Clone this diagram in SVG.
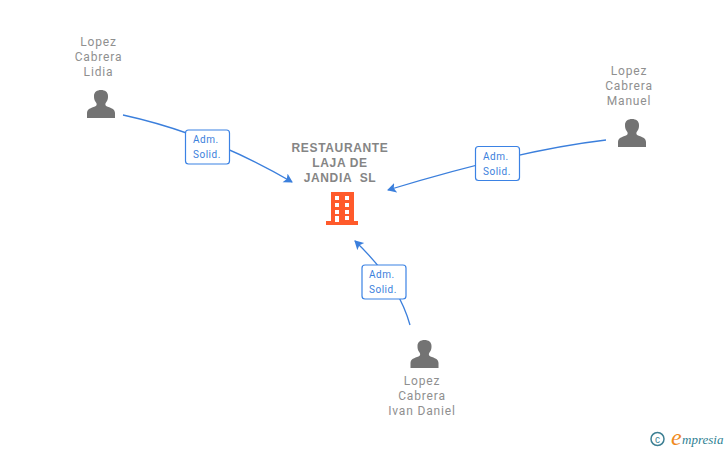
<svg xmlns="http://www.w3.org/2000/svg" width="728" height="450" viewBox="0 0 728 450">
<style>
.n{font:12px Roboto,"Liberation Sans",sans-serif;fill:#8f8f8f;text-anchor:middle;letter-spacing:.85px}
.t{font:bold 12px "Liberation Sans",Arial,sans-serif;fill:#858585;text-anchor:middle;letter-spacing:.65px;white-space:pre}
.e{font:10px Roboto,"Liberation Sans",sans-serif;fill:#3b7fdc;letter-spacing:.5px}
.c{fill:none;stroke:#3b7fdc;stroke-width:1.3}
.b{fill:#fff;stroke:#3b82e4;stroke-width:1.2}
.p{fill:#737373}
</style>
<defs>
<marker id="a" markerUnits="userSpaceOnUse" markerWidth="11" markerHeight="12" refX="8" refY="5" orient="auto"><path d="M0 0L9 5L0 10L2 5Z" fill="#3b7fdc"/></marker>
<path id="u" d="M-14 14V9C-14 5-10 4-6 2.500C-4 1.500-4 0-5-1.500C-7-4-7-6-7-8C-7-12-4-14 0-14C4-14 7-12 7-8C7-6 7-4 5-1.500C4 0 4 1.500 6 2.500C10 4 14 5 14 9V14Z"/>
</defs>
<g id="connectors">
<path class="c" marker-end="url(#a)" d="M123 115Q210 134 292 182"/>
<path class="c" marker-end="url(#a)" d="M606 140Q520 150 388 190"/>
<path class="c" marker-end="url(#a)" d="M410 325Q398 282 355 241"/>
</g>
<g id="edge-label-1"><rect class="b" x="185.500" y="130" width="44" height="34" rx="3"/><text class="e" x="193" y="143">Adm.</text><text class="e" x="193" y="158">Solid.</text></g>
<g id="edge-label-2"><rect class="b" x="475.500" y="146.500" width="44" height="34" rx="3"/><text class="e" x="483" y="160">Adm.</text><text class="e" x="483" y="175">Solid.</text></g>
<g id="edge-label-3"><rect class="b" x="362" y="265" width="44" height="34" rx="3"/><text class="e" x="369" y="278">Adm.</text><text class="e" x="369" y="293">Solid.</text></g>
<g id="node-company">
<text class="t" x="340" y="152">RESTAURANTE</text><text class="t" x="340" y="167">LAJA DE</text><text class="t" x="340" y="182">JANDIA  SL</text>
<path fill="#ff5a2b" fill-rule="evenodd" d="M331 192H354V221H358V225H326V221H331ZM335 196V200H339V196ZM345 196V200H349V196ZM335 203V207H339V203ZM345 203V207H349V203ZM335 210V214H339V210ZM345 210V214H349V210ZM335 216V222H339V216ZM345 216V220H349V216Z"/>
</g>
<g id="node-lidia"><text class="n" x="98.500" y="46">Lopez</text><text class="n" x="98.500" y="61">Cabrera</text><text class="n" x="98.500" y="76">Lidia</text><use href="#u" class="p" x="101" y="104"/></g>
<g id="node-manuel"><text class="n" x="629" y="75">Lopez</text><text class="n" x="629" y="90">Cabrera</text><text class="n" x="629" y="105">Manuel</text><use href="#u" class="p" x="632" y="133"/></g>
<g id="node-ivan"><text class="n" x="422" y="385">Lopez</text><text class="n" x="422" y="400">Cabrera</text><text class="n" x="422" y="415">Ivan Daniel</text><use href="#u" class="p" x="424.500" y="354"/></g>
<g id="logo">
<circle cx="657.500" cy="439" r="6.500" fill="none" stroke="#3d7f93" stroke-width="1.500"/>
<text x="657.500" y="442.500" font-family="Liberation Sans,sans-serif" font-size="10" fill="#3d7f93" text-anchor="middle">c</text>
<text x="671" y="444.500" font-family="Liberation Serif,serif" font-style="italic" font-size="24" fill="#f08a1d">e</text>
<text x="682" y="444" font-family="Liberation Serif,serif" font-style="italic" font-size="13" fill="#2f7f93">mpresia</text>
</g>
</svg>
